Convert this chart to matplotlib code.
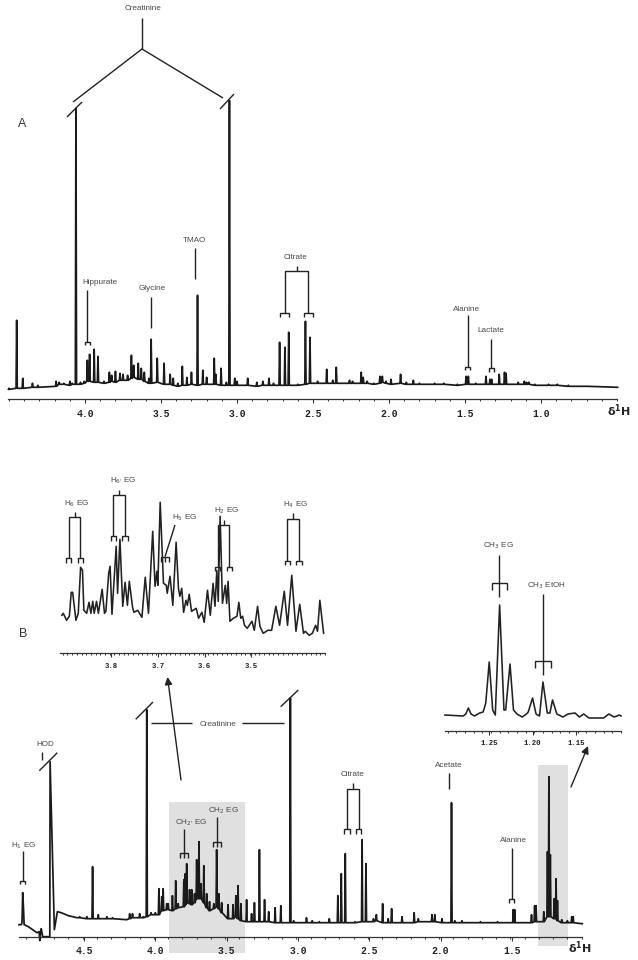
import numpy as np
import matplotlib
matplotlib.use("Agg")
import matplotlib.pyplot as plt
from matplotlib.patches import Rectangle

W = 638
H = 960
plt.rcParams['font.family'] = ['Liberation Sans', 'DejaVu Sans']
plt.rcParams['mathtext.fontset'] = 'dejavusans'

# spectrum A: peak position (ppm), peak top and foot (intensity above the axis)
a_ppm = [4.50, 4.45, 4.41, 4.346, 4.31, 4.19, 4.17, 4.14, 4.10, 4.085, 4.06, 4.03, 4.005, 3.985, 3.97, 3.94, 3.915,
         3.875, 3.84, 3.825, 3.80, 3.77, 3.75, 3.72, 3.695, 3.68, 3.65, 3.63, 3.61, 3.58, 3.565, 3.525, 3.48, 3.44,
         3.42, 3.39, 3.36, 3.33, 3.30, 3.26, 3.225, 3.20, 3.15, 3.14, 3.105, 3.07, 3.05, 3.015, 3.0, 2.93, 2.87, 2.83,
         2.79, 2.76, 2.72, 2.685, 2.66, 2.60, 2.55, 2.52, 2.47, 2.41, 2.37, 2.347, 2.26, 2.24, 2.183, 2.17, 2.144,
         2.10, 2.06, 2.044, 2.02, 1.987, 1.924, 1.886, 1.84, 1.80, 1.70, 1.64, 1.55, 1.493, 1.478, 1.43, 1.362, 1.336,
         1.325, 1.275, 1.24, 1.23, 1.15, 1.11, 1.095, 1.08, 1.04, 0.95, 0.893, 0.82, 0.7, 0.5]
a_top = [11, 79, 21, 16, 14, 18, 17, 16, 18, 16, 291, 17, 18, 39, 45, 50, 43,
         18, 27, 24, 28, 26, 25, 24, 44, 34, 36, 31, 27, 21, 60, 41, 36, 25,
         21, 16, 33, 22, 27, 104, 29, 22, 41, 25, 31, 17, 299, 21, 18, 21, 17, 18,
         21, 16, 57, 52, 67, 15, 78, 62, 18, 30, 19, 32, 19, 18, 27, 22, 18,
         16, 23, 23, 18, 20, 25, 17, 19, 16, 16, 16, 15, 23, 23, 16, 23, 20,
         20, 25, 27, 26, 17, 18, 17, 17, 15, 15, 15, 14, 13, 12]
a_base = [10, 11, 11, 12, 12, 13, 15, 15, 14, 15, 15, 15, 16, 18, 18, 17, 17,
          16, 17, 18, 17, 19, 19, 19, 21, 22, 20, 20, 18, 16, 16, 17, 15, 15,
          14, 13, 14, 14, 15, 14, 15, 15, 15, 15, 14, 14, 14, 14, 14, 14, 13, 14,
          14, 14, 14, 14, 14, 14, 15, 16, 16, 16, 16, 16, 16, 16, 16, 16, 16,
          15, 16, 17, 16, 15, 16, 15, 15, 15, 15, 15, 14, 15, 15, 15, 15, 15,
          15, 15, 15, 15, 15, 15, 15, 15, 14, 14, 14, 13, 13, 12]

# spectrum B: start of the trace around the water signal, then the peaks
b_water_ppm = [4.956, 4.94, 4.935, 4.93, 4.925, 4.92, 4.89, 4.86, 4.83, 4.815, 4.81, 4.805, 4.80, 4.79, 4.74, 4.738,
               4.708, 4.687, 4.66, 4.61, 4.55]
b_water_int = [12, 12, 14, 44, 30, 12, 10, 7, 4, 5, -4, 5, 8, 0, 0, 175, 7, 25, 24, 21, 19]
b_ppm = [4.53, 4.48, 4.44, 4.40, 4.34, 4.30, 4.205, 4.18, 4.16, 4.11, 4.085, 4.06, 4.03, 4.00, 3.975, 3.955, 3.945,
         3.92, 3.91, 3.88, 3.857, 3.84, 3.80, 3.79, 3.78, 3.76, 3.745, 3.725, 3.71, 3.694, 3.68, 3.66, 3.64, 3.62,
         3.59, 3.57, 3.555, 3.535, 3.49, 3.455, 3.435, 3.42, 3.40, 3.36, 3.325, 3.305, 3.27, 3.234, 3.205, 3.16, 3.12,
         3.053, 3.03, 2.94, 2.90, 2.85, 2.78, 2.72, 2.696, 2.668, 2.60, 2.55, 2.523, 2.47, 2.45, 2.406, 2.367, 2.343,
         2.27, 2.185, 2.156, 2.06, 2.04, 1.99, 1.923, 1.90, 1.85, 1.72, 1.6, 1.49, 1.48, 1.362, 1.34, 1.33, 1.276,
         1.25, 1.24, 1.23, 1.203, 1.19, 1.18, 1.15, 1.11, 1.08, 1.07, 1.01]
b_top = [20, 20, 70, 22, 20, 19, 17, 23, 23, 23, 20, 227, 24, 24, 48, 40, 48,
         33, 33, 41, 56, 33, 57, 63, 73, 47, 47, 43, 77, 95, 53, 71, 43, 35,
         33, 87, 43, 34, 32, 32, 41, 51, 33, 37, 23, 34, 87, 37, 25, 29, 31,
         239, 16, 19, 16, 15, 18, 41, 63, 83, 15, 97, 73, 18, 22, 33, 18, 28,
         20, 24, 18, 22, 22, 18, 134, 16, 16, 15, 15, 27, 27, 22, 31, 31, 25,
         85, 160, 82, 38, 58, 36, 17, 16, 20, 20, 13]
b_base = [19, 18, 18, 18, 18, 18, 17, 18, 19, 19, 19, 20, 22, 22, 22, 26, 26,
          27, 27, 26, 28, 29, 30, 32, 34, 33, 32, 34, 38, 38, 38, 34, 29, 26,
          28, 30, 28, 24, 18, 18, 20, 18, 16, 15, 15, 15, 15, 15, 15, 14, 14,
          14, 14, 14, 14, 14, 14, 14, 14, 14, 14, 15, 15, 15, 16, 14, 14, 14,
          14, 14, 15, 15, 15, 14, 14, 14, 14, 14, 14, 14, 14, 14, 15, 15, 15,
          20, 20, 20, 18, 18, 16, 14, 14, 14, 14, 13]

# inset over 3.9-3.35 ppm
c_ppm = [3.905, 3.902, 3.895, 3.889, 3.885, 3.882, 3.875, 3.870, 3.865, 3.861, 3.858, 3.852, 3.847, 3.843, 3.839,
         3.836, 3.831, 3.827, 3.819, 3.814, 3.811, 3.805, 3.802, 3.798, 3.789, 3.786, 3.781, 3.775, 3.770, 3.765,
         3.761, 3.754, 3.751, 3.743, 3.734, 3.727, 3.720, 3.711, 3.706, 3.702, 3.700, 3.695, 3.688, 3.682, 3.680,
         3.674, 3.668, 3.661, 3.656, 3.653, 3.649, 3.645, 3.640, 3.637, 3.633, 3.628, 3.618, 3.613, 3.606, 3.601,
         3.594, 3.588, 3.582, 3.578, 3.574, 3.571, 3.567, 3.562, 3.556, 3.553, 3.550, 3.546, 3.539, 3.531, 3.527,
         3.523, 3.519, 3.515, 3.509, 3.499, 3.494, 3.487, 3.482, 3.475, 3.465, 3.457, 3.448, 3.440, 3.430, 3.423,
         3.414, 3.405, 3.397, 3.389, 3.385, 3.377, 3.370, 3.363, 3.359, 3.354, 3.346]
c_int = [38, 40, 33, 37, 61, 61, 33, 40, 86, 83, 43, 40, 51, 40, 52,
         40, 52, 40, 64, 40, 42, 80, 87, 39, 107, 60, 114, 47, 71, 48,
         72, 46, 41, 43, 36, 76, 40, 122, 67, 82, 68, 151, 70, 68, 60,
         77, 48, 111, 65, 57, 65, 41, 53, 48, 59, 42, 45, 35, 41, 31,
         63, 38, 70, 47, 83, 52, 137, 50, 68, 50, 72, 32, 35, 37, 51,
         35, 37, 28, 25, 32, 23, 47, 27, 20, 23, 23, 47, 28, 62, 28,
         78, 22, 49, 20, 22, 18, 20, 28, 22, 53, 20]

# inset over 1.30-1.10 ppm
d_ppm = [1.301, 1.280, 1.277, 1.274, 1.271, 1.267, 1.261, 1.257, 1.254, 1.250, 1.246, 1.243, 1.238, 1.233, 1.231,
         1.226, 1.222, 1.218, 1.212, 1.207, 1.205, 1.200, 1.196, 1.192, 1.188, 1.183, 1.180, 1.177, 1.172, 1.165,
         1.159, 1.151, 1.146, 1.141, 1.135, 1.118, 1.112, 1.106, 1.100, 1.098]
d_int = [16, 15, 17, 23, 17, 15, 18, 19, 28, 69, 21, 16, 126, 21, 21,
         67, 21, 17, 14, 17, 19, 33, 17, 15, 49, 18, 18, 31, 17, 14,
         17, 18, 14, 17, 13, 13, 17, 14, 16, 15]

a_ticks = [4.0, 3.5, 3.0, 2.5, 2.0, 1.5, 1.0]
b_ticks = [4.5, 4.0, 3.5, 3.0, 2.5, 2.0, 1.5]
c_ticks = [3.8, 3.7, 3.6, 3.5]
d_ticks = [1.25, 1.20, 1.15]

LINE = '#222222'
TEXT = '#4a4a4a'
GREY = '#e0e0e0'


def trace(ppm, top, base, w):
    x = []
    y = []
    for p, t, b in zip(ppm, top, base):
        x += [p + w, p, p - w]
        y += [b, t, b]
    return x, y


def panel(left, right, axis_y, top_y, xlim, major, minor_step, size, fmt):
    ax = fig.add_axes([left / W, 1 - axis_y / H, (right - left) / W, (axis_y - top_y) / H])
    ax.set_xlim(xlim)
    ax.set_ylim(0, axis_y - top_y)
    ax.patch.set_visible(False)
    for s in ['top', 'left', 'right']:
        ax.spines[s].set_visible(False)
    ax.spines['bottom'].set_color('#333333')
    ax.spines['bottom'].set_linewidth(0.9)
    ax.set_yticks([])
    ax.set_xticks(major)
    ax.set_xticklabels([fmt % v for v in major], family=['Liberation Mono', 'DejaVu Sans Mono'],
                       fontsize=size, fontweight='bold', color='#222222')
    ax.set_xticks(np.arange(xlim[1], xlim[0], minor_step), minor=True)
    ax.tick_params(axis='x', which='major', length=3.2, width=0.8, color='#333333', pad=3.5)
    ax.tick_params(axis='x', which='minor', length=1.4, width=0.7, color='#333333')
    return ax


def seg(*pts, lw=1.0, color=LINE):
    front.plot([p[0] for p in pts], [p[1] for p in pts], color=color, lw=lw, solid_capstyle='butt',
               solid_joinstyle='miter')


def label(x, y, s, size=5.9):
    front.text(x, y, s, ha='center', va='center', fontsize=size, color=TEXT)


def cap(x, y0, y1, half=2.7):
    seg((x - half, y1), (x - half, y0), (x + half, y0), (x + half, y1))


def fork(x, y0, y1, half=4.2):
    seg((x - half, y1), (x - half, y0), (x + half, y0), (x + half, y1))
    seg((x, y0), (x, y1))


def pair(x0, x1, tick_y, bar_y, leg_y, cap_y, half=2.7):
    mid = (x0 + x1) / 2
    seg((mid, tick_y), (mid, bar_y))
    seg((x0, leg_y), (x0, bar_y), (x1, bar_y), (x1, leg_y))
    cap(x0, leg_y, cap_y, half)
    cap(x1, leg_y, cap_y, half)


def arrow(x0, y0, x1, y1):
    front.annotate('', xy=(x1, y1), xytext=(x0, y0),
                   arrowprops=dict(arrowstyle='-|>', color='#222222', lw=1.0, mutation_scale=11, shrinkA=0, shrinkB=0))


fig = plt.figure(figsize=(W / 100, H / 100), dpi=100, facecolor='white')

back = fig.add_axes([0, 0, 1, 1], zorder=0)
back.set_xlim(0, W)
back.set_ylim(H, 0)
back.axis('off')
back.add_patch(Rectangle((168.7, 802), 76.6, 150.7, facecolor=GREY, edgecolor='none'))
back.add_patch(Rectangle((537.7, 765), 30, 180.7, facecolor=GREY, edgecolor='none'))

# panel A
ax_a = panel(8, 617, 399.3, 80, (4.507, 0.5), a_ticks, 0.1, 7, '%.1f')
ax_a.set_zorder(1)
x, y = trace(a_ppm, a_top, a_base, 0.004)
ax_a.plot(x, y, color='#1a1a1a', lw=1.25, clip_on=False)

# panel B
ax_b = panel(19, 581.7, 936.7, 680, (4.956, 1.01), b_ticks, 0.1, 7, '%.1f')
ax_b.set_zorder(1)
x, y = trace(b_ppm, b_top, b_base, 0.004)
ax_b.plot(b_water_ppm + x, b_water_int + y, color='#1a1a1a', lw=1.25, clip_on=False)

# inset of the 3.9-3.35 ppm region
ax_c = panel(60, 325, 653.3, 490, (3.909, 3.343), c_ticks, 0.01, 5.3, '%.1f')
ax_c.set_zorder(1)
ax_c.plot(c_ppm, c_int, color='#222222', lw=1.15, clip_on=False)

# inset of the 1.3-1.1 ppm region
ax_d = panel(445, 621, 731, 590, (1.301, 1.098), d_ticks, 0.01, 5.3, '%.2f')
ax_d.set_zorder(1)
ax_d.plot(d_ppm, d_int, color='#222222', lw=1.15, clip_on=False)

front = fig.add_axes([0, 0, 1, 1], zorder=2)
front.set_xlim(0, W)
front.set_ylim(H, 0)
front.axis('off')

# annotations on panel A
label(143, 9, 'Creatinine')
seg((142, 18), (142, 49))
seg((73, 102), (142, 49), (223, 98))
seg((67, 117), (82, 102))
seg((220, 109), (234, 94))
front.text(22.5, 124, 'A', ha='center', va='center', fontsize=9, color='#333333')
label(100, 282.3, 'Hippurate')
seg((87.3, 290), (87.3, 341.7))
cap(87.5, 341.7, 344.5)
label(152.3, 289, 'Glycine')
seg((150.7, 297.3), (150.7, 328.3))
label(194, 240, 'TMAO')
seg((194.7, 248.3), (194.7, 279.3))
label(296, 257.3, 'Citrate')
pair(284.7, 308.3, 266, 270.7, 312.7, 316.7, 4.7)
label(466.7, 309.3, 'Alanine')
seg((467.7, 315), (467.7, 366.7))
cap(467.7, 366.7, 369.5)
label(491.3, 331, 'Lactate')
seg((491.3, 339), (491.3, 368.3))
cap(491.5, 368.3, 371.7)
front.text(619, 411, '$\\mathbf{\\delta^{1}H}$', ha='center', va='center', fontsize=8, color='#222222')

# annotations on the left inset
front.text(22.7, 634, 'B', ha='center', va='center', fontsize=9, color='#333333')
label(77, 503.3, 'H$_6$ EG')
pair(68.7, 80.3, 511.7, 517.3, 558.3, 562.7)
label(123, 480.7, "H$_{6'}$ EG")
pair(113.3, 125, 490, 495, 536, 540.7)
label(185, 517.3, 'H$_5$ EG')
seg((175, 525), (165, 556.7))
fork(165.2, 556.7, 561.7)
label(226.7, 511, 'H$_2$ EG')
pair(217.7, 229.3, 520, 525.3, 566.7, 571)
label(296, 504.7, 'H$_4$ EG')
pair(287.3, 299, 513.3, 519, 560.7, 565)

# annotations on the right inset
label(498.7, 545.7, 'CH$_3$ EG')
seg((499.3, 555), (499.3, 596.7))
seg((491.7, 590), (491.7, 582.7), (507.3, 582.7), (507.3, 590))
label(546.7, 585.7, 'CH$_3$ EtOH')
seg((542.7, 594), (542.7, 675))
seg((535.3, 667.7), (535.3, 660.7), (550.7, 660.7), (550.7, 667.7))

# annotations on panel B
label(24, 845.3, 'H$_1$ EG')
seg((22.7, 851), (22.7, 881))
cap(22.7, 881, 884)
label(45.7, 744, 'HOD')
seg((42, 752), (42, 760))
seg((39.3, 770.7), (57.3, 752.7))
seg((135.7, 719.3), (153, 702))
seg((280.7, 706.7), (298.3, 690))
seg((151, 723), (192, 723))
label(218, 724, 'Creatinine')
seg((241.5, 723), (283.5, 723))
arrow(181, 780, 167.5, 677)
arrow(571, 787, 588, 746)
label(191.3, 822.7, "CH$_{2'}$ EG")
seg((184, 829), (184, 853))
fork(184, 853, 858)
label(223.7, 811, 'CH$_2$ EG')
seg((217, 817.3), (217, 841.7))
fork(217, 841.7, 846.7)
label(352.7, 774.3, 'Citrate')
pair(347, 358.7, 783.3, 789, 829.3, 834)
label(449, 765.7, 'Acetate')
seg((449, 772.7), (449, 789))
label(513.7, 840, 'Alanine')
seg((511.7, 848.3), (511.7, 899.3))
cap(511.7, 899.3, 902.7)
front.text(580, 948, '$\\mathbf{\\delta^{1}H}$', ha='center', va='center', fontsize=8, color='#222222')

fig.savefig('out.png', dpi=100, facecolor='white')
